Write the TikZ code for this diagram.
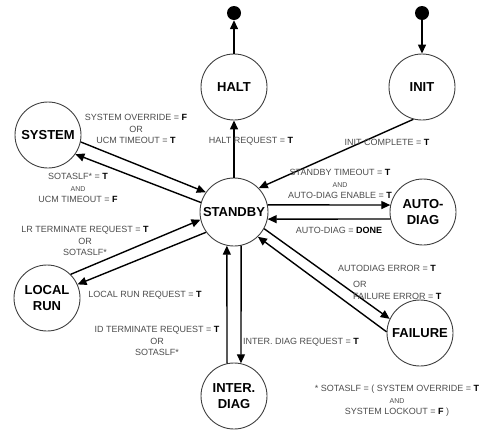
\documentclass[tikz,border=0pt]{standalone}
\usepackage{fontspec}
\setmainfont{Liberation Sans}
\usetikzlibrary{arrows.meta}
\newcommand{\val}[1]{\textcolor{black}{\textbf{#1}}}
\newcommand{\condand}{{\fontsize{7}{8}\selectfont AND}}

\begin{document}
\begin{tikzpicture}[x=1pt,y=-1pt,
    state/.style={circle, draw=black!75, line width=0.9pt, minimum size=66pt, inner sep=0pt,
        font=\fontsize{13}{16}\selectfont\bfseries, align=center},
    term/.style={circle, fill=black, minimum size=14pt, inner sep=0pt},
    cond/.style={font=\fontsize{9}{11.5}\selectfont, text=black!70, align=center, inner sep=0pt},
    trans/.style={line width=1.4pt, -{Triangle[length=9pt,width=8pt]}},
    ]
\useasboundingbox (0,0) rectangle (481,429);

% states
\node[term] (haltend) at (234,13) {};
\node[term] (initstart) at (422,13) {};
\node[state] (halt) at (234,87) {HALT};
\node[state] (init) at (422,87) {INIT};
\node[state, minimum size=68pt] (standby) at (234,212) {STANDBY};
\node[state] (system) at (48,135) {SYSTEM};
\node[state] (autodiag) at (423,212) {AUTO-\\DIAG};
\node[state] (localrun) at (47,298) {LOCAL\\RUN};
\node[state] (failure) at (420,333) {FAILURE};
\node[state] (interdiag) at (234,396) {INTER.\\DIAG};

% transitions
\draw[trans] (halt) -- (haltend);
\draw[trans] (initstart) -- (init);
\draw[trans] (standby) -- (halt);
\draw[trans] (init.-105) -- (standby.44);
\draw[trans] (system.-12) -- (standby.145);
\draw[trans] (standby.164) -- (system.-35);
\draw[trans] (standby.12) -- (autodiag.168);
\draw[trans] (autodiag.-168) -- (standby.-12);
\draw[trans] (localrun.45) -- (standby.193);
\draw[trans] (standby.216) -- (localrun.24);
\draw[trans] (standby.-29) -- (failure.155);
\draw[trans] (failure.178) -- (standby.-46);
\draw[trans] (interdiag.102) -- (standby.-102);
\draw[trans] (standby.-78) -- (interdiag.78);

% conditions
\node[cond] (c-halt) at (251,141) {HALT REQUEST = \val{T}};
\node[cond] (c-init) at (387,142) {INIT COMPLETE = \val{T}};
\node[cond] (c-sysin) at (136,129) {SYSTEM OVERRIDE = \val{F}\\OR\\UCM TIMEOUT = \val{T}};
\node[cond] (c-sysout) at (78,188) {SOTASLF* = \val{T}\\\condand\\UCM TIMEOUT = \val{F}};
\node[cond] (c-adin) at (340,184) {STANDBY TIMEOUT = \val{T}\\\condand\\AUTO-DIAG ENABLE = \val{T}};
\node[cond] (c-adout) at (339,230) {AUTO-DIAG = \val{DONE}};
\node[cond] (c-lrin) at (85,241) {LR TERMINATE REQUEST = \val{T}\\OR\\SOTASLF*};
\node[cond] (c-lrout) at (145,295) {LOCAL RUN REQUEST = \val{T}};
\node[cond] (c-idin) at (157,341) {ID TERMINATE REQUEST = \val{T}\\OR\\SOTASLF*};
\node[cond] (c-idout) at (301,342) {INTER. DIAG REQUEST = \val{T}};
\node[cond] (c-fail) at (387,268) {AUTODIAG ERROR = \val{T}};
\node[cond, anchor=west, align=left] (c-fail2) at (353,290.5) {OR\\FAILURE ERROR = \val{T}};
\node[cond] (note) at (397,401) {* SOTASLF = ( SYSTEM OVERRIDE = \val{T}\\\condand\\SYSTEM LOCKOUT = \val{F} )};
\end{tikzpicture}
\end{document}
